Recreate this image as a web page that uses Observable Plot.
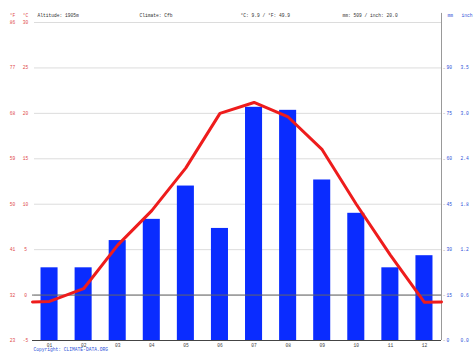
<!DOCTYPE html>
<html>
<head>
<meta charset="utf-8">
<script src="https://cdn.jsdelivr.net/npm/d3@7"></script>
<script src="https://cdn.jsdelivr.net/npm/@observablehq/plot@0.6"></script>
<style>
  html, body { margin: 0; padding: 0; background: #fff; }
  svg { display: block; }
</style>
</head>
<body>
<div id="chart"></div>
<script>
// ---- data ----
const months = ["01","02","03","04","05","06","07","08","09","10","11","12"];
const precipMm = [24, 24, 33, 40, 51, 37, 77, 76, 53, 42, 24, 28];
const tempC = [-0.7, 0.7, 5.5, 9.3, 14.0, 20.0, 21.2, 19.6, 16.0, 10.0, 4.4, -0.8];
const cTicks = [-5, 0, 5, 10, 15, 20, 25, 30];
const fLabels = ["23", "32", "41", "50", "59", "68", "77", "86"];
const mmTicks = [0, 15, 30, 45, 60, 75, 90];
const inchLabels = ["0.0", "0.6", "1.2", "1.8", "2.4", "3.0", "3.5"];
const headerTexts = ["Altitude: 1905m", "Climate: Cfb", "°C: 9.9 / °F: 49.9", "mm: 509 / inch: 20.0"];
const copyright = ["Copyright: CLIMATE-DATA.ORG"];

// precipitation (mm) is drawn on the temperature axis: 3 mm per °C, 0 mm at -5 °C
const mmToY = mm => mm / 3 - 5;

const rows = months.map((m, i) => ({m: i + 1, label: m, mm: precipMm[i], t: tempC[i]}));
// the yearly curve wraps around: it meets the frame edges halfway between December and January
const wrapT = (tempC[0] + tempC[11]) / 2;
const linePts = [{m: 0.5, t: wrapT}, ...rows, {m: 12.5, t: wrapT}];

const font = "Liberation Mono, DejaVu Sans Mono, monospace";
const fs = 4.6;
const red = "#e04848";
const blue = "#2b4fd8";
const headerX = [37, 139, 240, 342];

const chart = Plot.plot({
  width: 474,
  height: 355,
  marginLeft: 32,
  marginRight: 33,
  marginTop: 22,
  marginBottom: 15,
  style: {fontFamily: font, background: "#fff"},
  x: {type: "linear", domain: [0.5, 12.5], axis: null},
  y: {domain: [-5, 30], axis: null},
  marks: [
    // grid
    Plot.ruleY(cTicks.filter(d => d > -5), {stroke: "#dcdcdc", strokeWidth: 1, insetLeft: 2}),
    // bars
    Plot.rectY(rows, {x1: d => d.m - 0.25, x2: d => d.m + 0.25, y1: -5, y2: d => mmToY(d.mm), fill: "#0a2cff"}),
    // zero line
    Plot.ruleY([0], {stroke: "#666", strokeWidth: 1}),
    // bottom axis
    Plot.ruleY([-5], {stroke: "#444", strokeWidth: 1}),
    // right axis line
    Plot.ruleX([12.5], {y1: -5, y2: 31, stroke: "#999", strokeWidth: 1}),
    // right ticks
    Plot.text(mmTicks, {y: d => mmToY(d), text: () => "-", frameAnchor: "right", dx: 2.5, fill: "#999", fontSize: 6, textAnchor: "middle"}),
    // temperature line
    Plot.line(linePts, {x: "m", y: "t", stroke: "#ee1c1c", strokeWidth: 3, curve: "linear"}),
    // left labels °C
    Plot.text(cTicks, {y: d => d, text: d => String(d), frameAnchor: "left", dx: -7, fill: red, fontSize: fs, textAnchor: "middle"}),
    // left labels °F
    Plot.text(cTicks, {y: d => d, text: (d, i) => fLabels[i], frameAnchor: "left", dx: -20, fill: red, fontSize: fs, textAnchor: "middle"}),
    // right labels mm
    Plot.text(mmTicks, {y: d => mmToY(d), text: d => String(d), frameAnchor: "right", dx: 5, fill: blue, fontSize: fs, textAnchor: "start"}),
    // right labels inch
    Plot.text(mmTicks, {y: d => mmToY(d), text: (d, i) => inchLabels[i], frameAnchor: "right", dx: 19, fill: blue, fontSize: fs, textAnchor: "start"}),
    // month labels
    Plot.text(rows, {x: "m", text: "label", frameAnchor: "bottom", dy: 6, fill: "#444", fontSize: fs}),
    // header unit labels
    Plot.text(["°F"], {frameAnchor: "top-left", dx: -20, dy: -9, text: d => d, fill: red, fontSize: fs, textAnchor: "middle"}),
    Plot.text(["°C"], {frameAnchor: "top-left", dx: -7, dy: -9, text: d => d, fill: red, fontSize: fs, textAnchor: "middle"}),
    Plot.text(["mm"], {frameAnchor: "top-right", dx: 6, dy: -9, text: d => d, fill: blue, fontSize: fs, textAnchor: "start"}),
    Plot.text(["inch"], {frameAnchor: "top-right", dx: 20, dy: -9, text: d => d, fill: blue, fontSize: fs, textAnchor: "start"}),
    // header info
    ...headerTexts.map((t, i) => Plot.text([t], {frameAnchor: "top-left", dx: headerX[i] - 32, dy: -9, text: d => d, fill: "#333", fontSize: fs, textAnchor: "start"})),
    // copyright
    Plot.text(copyright, {frameAnchor: "bottom-left", dx: 1, dy: 10, text: d => d, fill: blue, fontSize: fs, textAnchor: "start"})
  ]
});

document.getElementById("chart").appendChild(chart);
</script>
</body>
</html>
